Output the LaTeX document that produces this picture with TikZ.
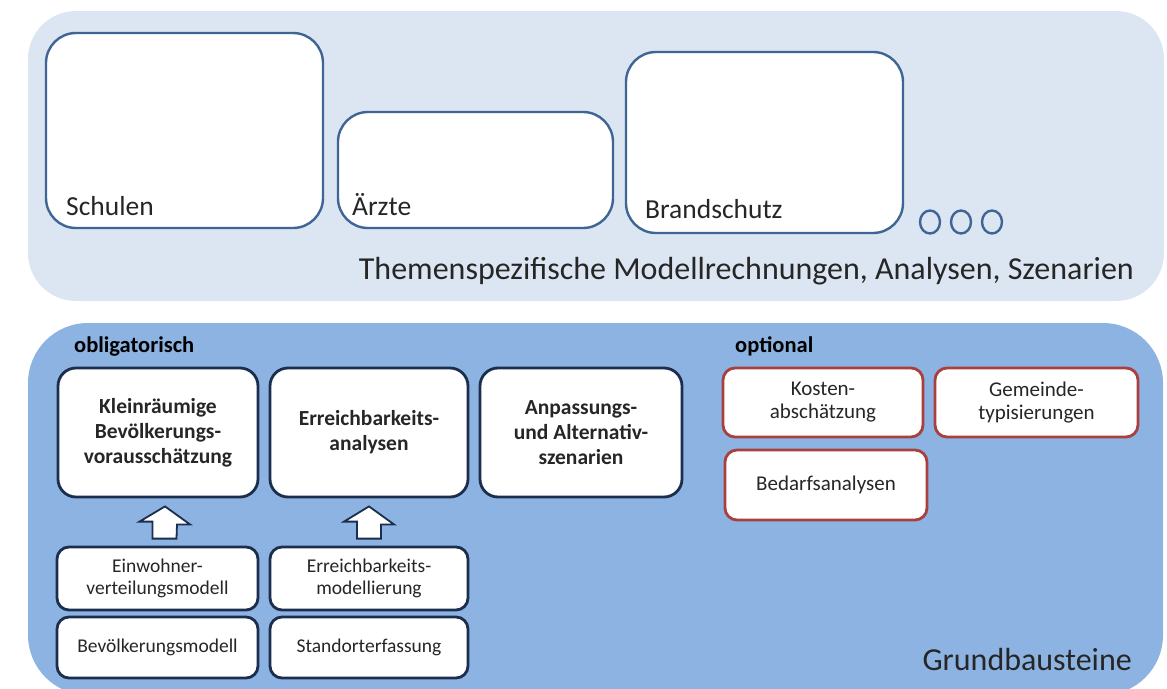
\documentclass[tikz,border=0pt]{standalone}
\usepackage{fontspec}
\setmainfont{Carlito}
\usetikzlibrary{calc}
\definecolor{panellight}{HTML}{DCE6F2}
\definecolor{panelmid}{HTML}{8DB3E2}
\definecolor{lineblue}{HTML}{3F6595}
\definecolor{linenavy}{HTML}{1B2E4E}
\definecolor{linered}{HTML}{A8403D}
\definecolor{textgrey}{HTML}{262626}
\tikzset{
  topbox/.style={draw=lineblue, line width=2.4pt, fill=white, rounded corners=30pt},
  toplabel/.style={anchor=base west, text=textgrey, font=\fontsize{27.5}{30}\selectfont, inner sep=0pt},
  mainbox/.style={draw=linenavy, line width=2.8pt, fill=white, rounded corners=18pt,
    align=center, text=textgrey, font=\bfseries\fontsize{21.5}{25}\selectfont},
  basebox/.style={draw=linenavy, line width=2.8pt, fill=white, rounded corners=12pt,
    align=center, text=textgrey, font=\fontsize{19.5}{22.5}\selectfont},
  optbox/.style={draw=linered, line width=2.8pt, fill=white, rounded corners=12pt,
    align=center, text=textgrey, font=\fontsize{21}{23}\selectfont},
  blockarrow/.style={draw=linenavy, line width=1.8pt, fill=white, line join=miter},
  bigtitle/.style={text=textgrey, font=\fontsize{32}{34}\selectfont, inner sep=0pt},
  grouphead/.style={anchor=base west, text=black, font=\bfseries\fontsize{22.5}{24}\selectfont, inner sep=0pt}
}
\begin{document}
\begin{tikzpicture}[x=1pt,y=-1pt]
  \useasboundingbox (0,0) rectangle (1167,688);
  \clip (0,0) rectangle (1167,688);

  % panels
  \fill[panellight, rounded corners=48pt] (28,11) rectangle (1164,301);
  \fill[panelmid, rounded corners=60pt] (28,323) rectangle (1163,695);

  % topic boxes
  \node[topbox, minimum width=277pt, minimum height=195pt] (schulen) at (184.5,130.5) {};
  \node[topbox, minimum width=275pt, minimum height=116pt] (aerzte) at (475.5,170) {};
  \node[topbox, minimum width=277pt, minimum height=181pt] (brand) at (764.5,142.5) {};
  \node[toplabel] (schulenlbl) at (66,215) {Schulen};
  \node[toplabel] (aerztelbl) at (352,215) {Ärzte};
  \node[toplabel] (brandlbl) at (645,218) {Brandschutz};
  \foreach \cx [count=\i] in {930,961,992}
    \draw[lineblue, line width=2.4pt] (\cx,222) ellipse (10pt and 11.5pt) node (dot\i) {};
  \node[bigtitle, anchor=base east] (themen) at (1134,279)
    {Themenspezifische Modellrechnungen, Analysen, Szenarien};

  % building blocks
  \node[grouphead] (oblig) at (74,352) {obligatorisch};
  \node[grouphead] (optio) at (735,352) {optional};

  \node[mainbox, minimum width=200pt, minimum height=129pt] (klein) at (158,432.5)
    {Kleinräumige\\Bevölkerungs-\\vorausschätzung};
  \node[mainbox, minimum width=198pt, minimum height=129pt] (erran) at (369,432.5)
    {Erreichbarkeits-\\analysen};
  \node[mainbox, minimum width=202pt, minimum height=129pt] (anpass) at (581,432.5)
    {Anpassungs-\\und Alternativ-\\szenarien};

  \node[basebox, minimum width=201pt, minimum height=63pt] (einw) at (157.5,578.5)
    {Einwohner-\\verteilungsmodell};
  \node[basebox, minimum width=201pt, minimum height=61pt] (bevmod) at (157.5,647.5)
    {Bevölkerungsmodell};
  \node[basebox, minimum width=198pt, minimum height=63pt] (errmod) at (369,578.5)
    {Erreichbarkeits-\\modellierung};
  \node[basebox, minimum width=198pt, minimum height=61pt] (stand) at (369,647.5)
    {Standorterfassung};

  \node[optbox, minimum width=200pt, minimum height=69pt] (kosten) at (823,402.5)
    {Kosten-\\abschätzung};
  \node[optbox, minimum width=203pt, minimum height=69pt] (gemeinde) at (1036.5,402.5)
    {Gemeinde-\\typisierungen};
  \node[optbox, minimum width=202pt, minimum height=70pt] (bedarf) at (826,485)
    {Bedarfsanalysen};

  % block arrows
  \foreach \lo/\hi/\dx in {einw/klein/7, errmod/erran/0}
    \draw[blockarrow] ($(\hi.south)+(\dx,8)$) -- ++(25,18) -- ++(-13,0)
      -- ($(\lo.north)+(\dx+12,-7)$) -- ++(-24,0) -- ++(0,-17) -- ++(-13,0) -- cycle;

  \node[bigtitle, anchor=base east] (grund) at (1132,670) {Grundbausteine};
\end{tikzpicture}
\end{document}
